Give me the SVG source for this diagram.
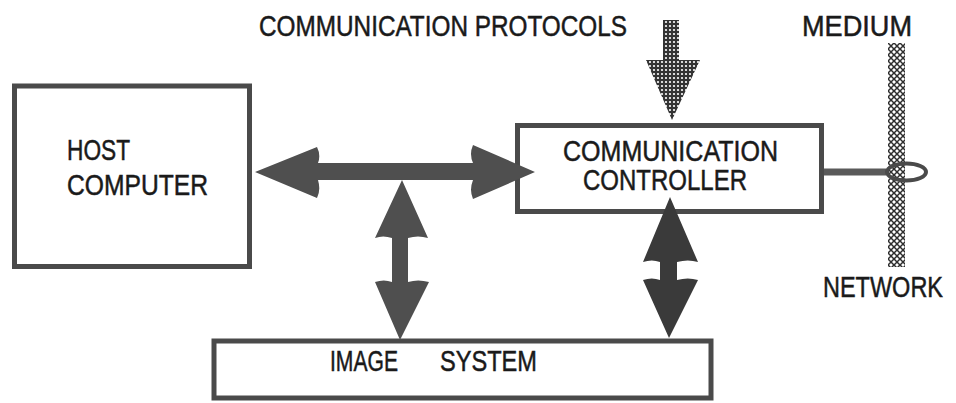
<svg xmlns="http://www.w3.org/2000/svg" width="956" height="403" viewBox="0 0 956 403">
  <style>
    .box { fill: #ffffff; stroke: #4a4a4a; stroke-width: 5; }
    .lbl { font-family: "Liberation Sans", Arial, Helvetica, sans-serif; font-size: 29px; fill: #1a1a1a; stroke: #1a1a1a; stroke-width: 0.5; }
    .arrow { fill: #4f4f4f; }
    .arrow-dark { fill: #3a3a3a; }
  </style>
  <defs>
    <pattern id="dots" width="4" height="4" patternUnits="userSpaceOnUse">
      <rect width="4" height="4" fill="#333333"/>
      <circle cx="2" cy="2" r="1.1" fill="#ffffff"/>
    </pattern>
    <pattern id="xhatch" width="6" height="6" patternUnits="userSpaceOnUse" x="888" y="43">
      <rect width="6" height="6" fill="#ffffff"/>
      <path d="M0,0 L6,6 M6,0 L0,6" stroke="#2e2e2e" stroke-width="1.5"/>
    </pattern>
  </defs>

  <rect width="956" height="403" fill="#ffffff"/>

  <g id="protocols">
    <text class="lbl" x="259" y="36" textLength="368" lengthAdjust="spacingAndGlyphs">COMMUNICATION PROTOCOLS</text>
    <path d="M663,20 L679,20 L679,60 L700,60 L672,120 L646,60 L663,60 Z" fill="url(#dots)"/>
  </g>

  <g id="network">
    <text class="lbl" x="802" y="36" textLength="110" lengthAdjust="spacingAndGlyphs">MEDIUM</text>
    <rect x="888" y="43" width="17" height="224" fill="url(#xhatch)"/>
    <text class="lbl" x="823" y="297" textLength="120" lengthAdjust="spacingAndGlyphs">NETWORK</text>
  </g>

  <g id="host-computer">
    <rect class="box" x="14.5" y="86" width="235" height="180.5"/>
    <text class="lbl" x="67" y="160" textLength="63" lengthAdjust="spacingAndGlyphs">HOST</text>
    <text class="lbl" x="67" y="195" textLength="141" lengthAdjust="spacingAndGlyphs">COMPUTER</text>
  </g>

  <g id="communication-controller">
    <rect class="box" x="517.5" y="125.5" width="304" height="86"/>
    <text class="lbl" x="563" y="161" textLength="215" lengthAdjust="spacingAndGlyphs">COMMUNICATION</text>
    <text class="lbl" x="583" y="190" textLength="164" lengthAdjust="spacingAndGlyphs">CONTROLLER</text>
  </g>

  <g id="image-system">
    <rect class="box" x="214" y="341" width="497" height="57"/>
    <text class="lbl" x="330" y="371" textLength="68" lengthAdjust="spacingAndGlyphs">IMAGE</text>
    <text class="lbl" x="440" y="371" textLength="97" lengthAdjust="spacingAndGlyphs">SYSTEM</text>
  </g>

  <g id="connectors">
    <path class="arrow" d="M255,172 L317,147 Q321,155 318,163 L473,163 Q469,154 473,145 L535,172 L473,199 Q469,190 473,180 L318,180 Q321,190 317,198 Z"/>
    <path class="arrow" d="M402,180 L428,238 Q418,235 408,238 L408,282 Q418,279 429,282 L400,340 L375,282 Q384,279 392,282 L392,238 Q383,235 375,238 Z"/>
    <path class="arrow-dark" d="M670,197 L698,262 Q688,259 677,262 L677,280 Q688,277 698,280 L669,338 L643,280 Q652,277 660,280 L660,262 Q652,259 643,262 Z"/>
    <line x1="824" y1="172" x2="886" y2="172" stroke="#5a5a5a" stroke-width="7"/>
    <ellipse cx="906.5" cy="172" rx="19.5" ry="8.5" fill="none" stroke="#4a4a4a" stroke-width="4"/>
  </g>
</svg>
